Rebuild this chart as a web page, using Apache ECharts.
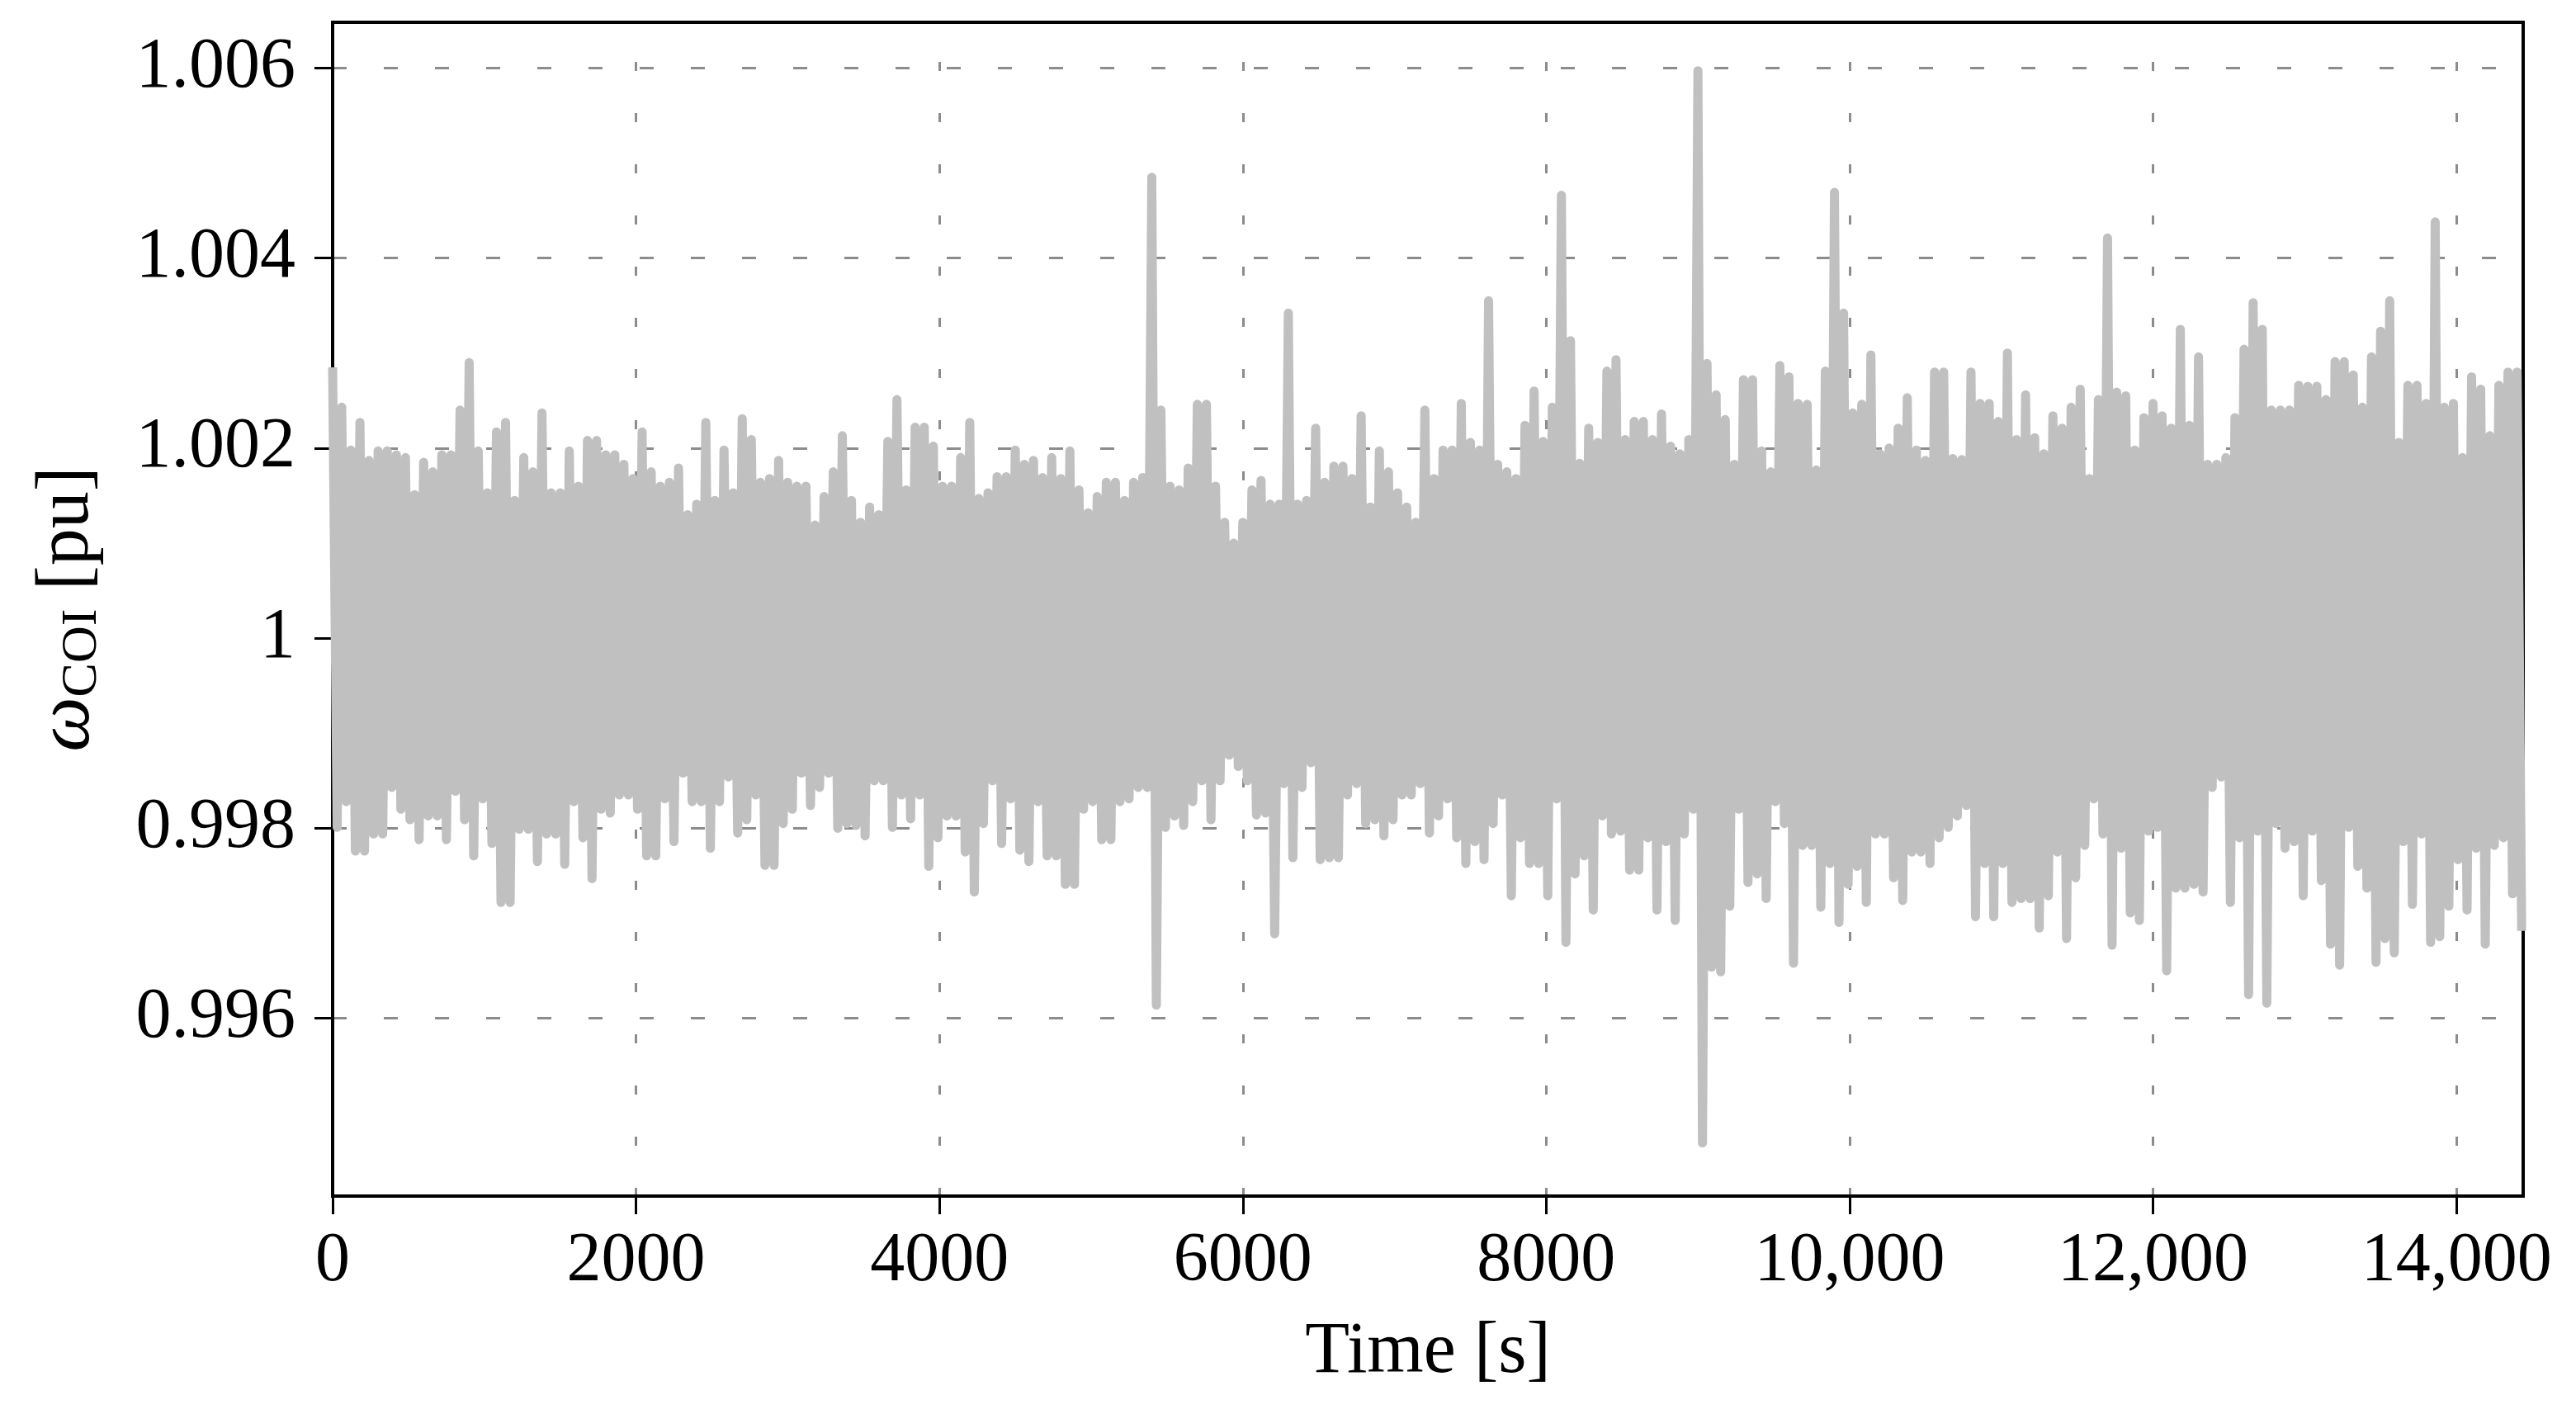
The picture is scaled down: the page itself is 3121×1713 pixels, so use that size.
<!DOCTYPE html>
<html>
<head>
<meta charset="utf-8">
<script src="https://cdn.jsdelivr.net/npm/echarts@6/dist/echarts.min.js"></script>
<style>
html, body { margin: 0; padding: 0; background: #fff; }
#main { width: 3121px; height: 1713px; }
</style>
</head>
<body>
<div id="main"></div>
<script>
// trace sampled from the figure: a peak every 60 s (t = 0, 60, ...),
// followed by a trough 30 s later
var step = 60;

var peaks = [
	1.00285, 1.00243, 1.00198, 1.00227, 1.00187, 1.00197, 1.00197, 1.00193, 1.0019, 1.00151,
	1.00185, 1.00175, 1.00193, 1.00193, 1.0024, 1.0029, 1.00197, 1.00153, 1.00217, 1.00227,
	1.00145, 1.0019, 1.00175, 1.00237, 1.00153, 1.00153, 1.00197, 1.0016, 1.00208, 1.00208,
	1.00193, 1.00193, 1.00183, 1.00168, 1.00217, 1.00175, 1.0016, 1.00164, 1.00179, 1.0013,
	1.00141, 1.00227, 1.00145, 1.00198, 1.00153, 1.00231, 1.00209, 1.00164, 1.00168, 1.00187,
	1.00164, 1.0016, 1.0016, 1.00119, 1.00149, 1.00175, 1.00213, 1.00145, 1.00122, 1.00138,
	1.0013, 1.00207, 1.00251, 1.00156, 1.00222, 1.00222, 1.00202, 1.0016, 1.0016, 1.0019,
	1.00227, 1.00147, 1.00153, 1.0017, 1.0017, 1.00198, 1.00183, 1.00187, 1.00169, 1.0019,
	1.00168, 1.00197, 1.00156, 1.00132, 1.00149, 1.00164, 1.00164, 1.00145, 1.00164, 1.00169,
	1.00485, 1.0024, 1.0016, 1.00156, 1.00179, 1.00246, 1.00246, 1.0016, 1.00122, 1.001,
	1.00122, 1.00156, 1.00166, 1.00141, 1.00141, 1.00342, 1.00141, 1.00145, 1.00221, 1.00164,
	1.00181, 1.00181, 1.00168, 1.00234, 1.00138, 1.00197, 1.00175, 1.00153, 1.00138, 1.00122,
	1.0024, 1.00168, 1.00198, 1.00198, 1.00247, 1.00206, 1.00198, 1.00355, 1.00183, 1.00175,
	1.00168, 1.00224, 1.0026, 1.00207, 1.00243, 1.00466, 1.00313, 1.00184, 1.00221, 1.00206,
	1.00281, 1.00293, 1.00209, 1.00228, 1.00228, 1.00209, 1.00236, 1.00202, 1.00194, 1.00209,
	1.00597, 1.00289, 1.00256, 1.0023, 1.00183, 1.00272, 1.00272, 1.00197, 1.00175, 1.00287,
	1.00275, 1.00247, 1.00246, 1.00177, 1.00281, 1.00469, 1.00342, 1.00237, 1.00246, 1.00298,
	1.00194, 1.002, 1.00221, 1.00253, 1.00198, 1.00187, 1.0028, 1.0028, 1.00189, 1.00188,
	1.0028, 1.00247, 1.00247, 1.00228, 1.003, 1.00209, 1.00256, 1.00211, 1.00194, 1.00234,
	1.00221, 1.00243, 1.00262, 1.00168, 1.00251, 1.00421, 1.00259, 1.00255, 1.00198, 1.00232,
	1.00247, 1.00234, 1.00221, 1.00325, 1.00224, 1.00296, 1.00183, 1.00183, 1.0019, 1.00232,
	1.00304, 1.00353, 1.00325, 1.0024, 1.0024, 1.0024, 1.00266, 1.00265, 1.00265, 1.00251,
	1.00291, 1.00291, 1.00277, 1.00243, 1.00296, 1.00323, 1.00355, 1.00206, 1.00266, 1.00266,
	1.00247, 1.00438, 1.00243, 1.00247, 1.0019, 1.00275, 1.00262, 1.00213, 1.00266, 1.0028,
	1.0028
];

var troughs = [
	0.99801, 0.99828, 0.99776, 0.99776, 0.99794, 0.99794, 0.99843, 0.9982, 0.99809, 0.99788,
	0.99813, 0.99813, 0.99788, 0.99839, 0.99809, 0.99771, 0.99831, 0.99784, 0.99722, 0.99722,
	0.99799, 0.99799, 0.99765, 0.99794, 0.99794, 0.99762, 0.99828, 0.9979, 0.99747, 0.9982,
	0.99816, 0.99835, 0.99835, 0.9982, 0.99771, 0.99771, 0.99831, 0.99786, 0.99858, 0.99828,
	0.99828, 0.99779, 0.99828, 0.99854, 0.99795, 0.99809, 0.99835, 0.99761, 0.99761, 0.99805,
	0.9982, 0.99858, 0.99824, 0.99843, 0.99858, 0.998, 0.99805, 0.99803, 0.99792, 0.9985,
	0.9985, 0.99801, 0.99835, 0.9981, 0.99835, 0.9976, 0.9979, 0.99813, 0.99813, 0.99775,
	0.99733, 0.99805, 0.9985, 0.99784, 0.99831, 0.99777, 0.99765, 0.99828, 0.99771, 0.99771,
	0.99741, 0.99741, 0.9982, 0.99828, 0.99788, 0.99788, 0.99828, 0.99831, 0.99843, 0.99843,
	0.99614, 0.99801, 0.99813, 0.99803, 0.99828, 0.9985, 0.99809, 0.9985, 0.99877, 0.99865,
	0.9985, 0.99814, 0.99816, 0.99689, 0.99847, 0.99769, 0.99843, 0.99869, 0.99767, 0.99769,
	0.99769, 0.99835, 0.99847, 0.99805, 0.99809, 0.99792, 0.99809, 0.99835, 0.99835, 0.99847,
	0.99795, 0.99813, 0.99831, 0.9979, 0.99763, 0.99786, 0.99767, 0.99805, 0.99835, 0.99729,
	0.9979, 0.99763, 0.99763, 0.99729, 0.99831, 0.9968, 0.99752, 0.99771, 0.99714, 0.99813,
	0.99794, 0.99797, 0.99756, 0.99756, 0.9979, 0.99714, 0.99786, 0.99703, 0.99794, 0.9982,
	0.99469, 0.99654, 0.99649, 0.99718, 0.9982, 0.99743, 0.99752, 0.99726, 0.99828, 0.99805,
	0.99658, 0.99782, 0.99782, 0.99717, 0.99763, 0.99701, 0.99741, 0.9976, 0.99722, 0.99794,
	0.99794, 0.99748, 0.99724, 0.99775, 0.99775, 0.99763, 0.9979, 0.99801, 0.99813, 0.99824,
	0.99707, 0.99763, 0.99707, 0.99763, 0.99722, 0.99726, 0.99726, 0.99695, 0.99729, 0.99775,
	0.99684, 0.99748, 0.99782, 0.99831, 0.99794, 0.99677, 0.99779, 0.99711, 0.99703, 0.99797,
	0.99801, 0.9965, 0.99737, 0.99737, 0.99741, 0.99733, 0.99843, 0.99854, 0.99722, 0.9979,
	0.99625, 0.99797, 0.99616, 0.99805, 0.99779, 0.99786, 0.99729, 0.99797, 0.99745, 0.99678,
	0.99656, 0.99801, 0.9976, 0.99737, 0.99659, 0.99684, 0.99669, 0.99786, 0.9972, 0.99794,
	0.9968, 0.99686, 0.99718, 0.99767, 0.99714, 0.99779, 0.99678, 0.99782, 0.9979, 0.99731,
	0.99692
];

var xTicks = [0, 2000, 4000, 6000, 8000, 10000, 12000, 14000];
var xTickLabels = ['0', '2000', '4000', '6000', '8000', '10,000', '12,000', '14,000'];
var yTicks = [0.996, 0.998, 1, 1.002, 1.004, 1.006];
var yTickLabels = ['0.996', '0.998', '1', '1.002', '1.004', '1.006'];

var font = 'Liberation Serif';

// peaks and troughs interleaved into one time series
var trace = [];
for (var i = 0; i < peaks.length; i++) {
	trace.push([i * step, peaks[i]]);
	trace.push([i * step + step / 2, troughs[i]]);
}

function tickLabel(ticks, labels) {
	return function (v) {
		for (var k = 0; k < ticks.length; k++) {
			if (Math.abs(ticks[k] - v) < 1e-7) return labels[k];
		}
		return '';
	};
}

var myChart = echarts.init(document.getElementById('main'));
var option = {
	animation: false,
	backgroundColor: '#fff',
	grid: {
		left: 403,
		right: 64,
		top: 27,
		bottom: 264,
		show: true,
		borderColor: '#000',
		borderWidth: 4
	},
	xAxis: {
		type: 'value',
		min: 0,
		max: 14440,
		name: 'Time [s]',
		nameLocation: 'middle',
		nameGap: 146,
		nameTextStyle: { fontFamily: font, fontSize: 88, color: '#000' },
		axisLine: { lineStyle: { color: '#000', width: 4 } },
		axisTick: { customValues: xTicks, length: 22, lineStyle: { color: '#000', width: 3 } },
		axisLabel: {
			customValues: xTicks,
			formatter: tickLabel(xTicks, xTickLabels),
			fontFamily: font, fontSize: 84, color: '#000', margin: 38
		},
		splitLine: {
			show: true,
			lineStyle: { color: '#8c8c8c', width: 3, type: [11, 51], dashOffset: 14 }
		}
	},
	yAxis: {
		type: 'value',
		min: 0.99413,
		max: 1.00648,
		name: '{w|ω}{s|COI}{n| [pu]}',
		nameLocation: 'middle',
		nameRotate: 90,
		nameGap: 272,
		nameTextStyle: {
			color: '#000',
			rich: {
				w: { fontFamily: font, fontStyle: 'italic', fontSize: 94, color: '#000' },
				s: { fontFamily: font, fontSize: 62, color: '#000', padding: [36, 0, 0, 0] },
				n: { fontFamily: font, fontSize: 90, color: '#000' }
			}
		},
		axisLine: { lineStyle: { color: '#000', width: 4 } },
		axisTick: { customValues: yTicks, length: 22, lineStyle: { color: '#000', width: 3 } },
		axisLabel: {
			customValues: yTicks,
			formatter: tickLabel(yTicks, yTickLabels),
			fontFamily: font, fontSize: 86, color: '#000', margin: 45
		},
		splitLine: {
			show: true,
			lineStyle: { color: '#8c8c8c', width: 3, type: [17, 45] }
		}
	},
	series: [{
		type: 'line',
		data: trace,
		showSymbol: false,
		silent: true,
		lineStyle: { color: '#c0c0c0', width: 11, join: 'round' }
	}]
};
myChart.setOption(option);
</script>
</body>
</html>
